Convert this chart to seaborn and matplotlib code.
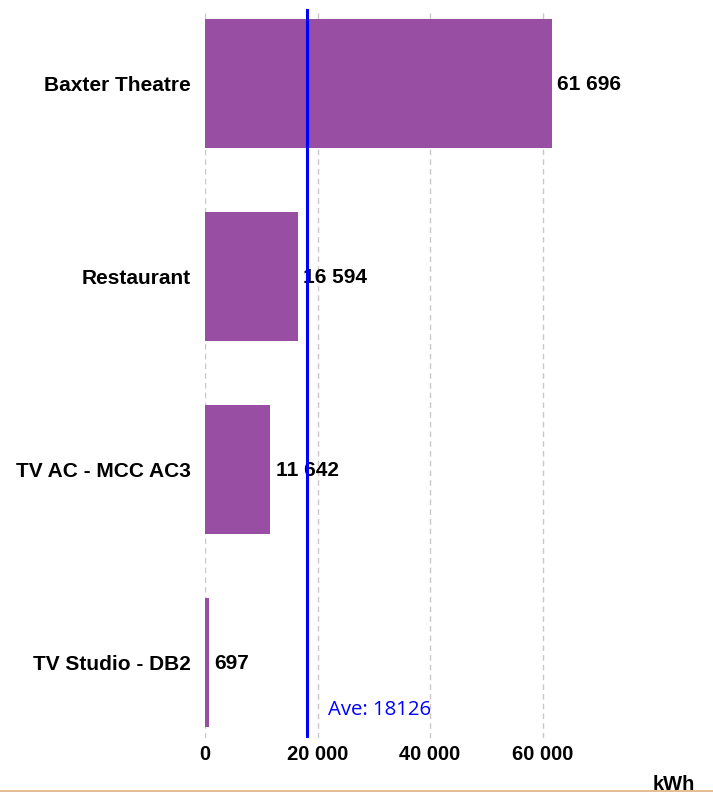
import matplotlib
matplotlib.use("Agg")
import matplotlib.pyplot as plt
import matplotlib.ticker as mticker
import pandas as pd
import seaborn as sns

# ── Data ──────────────────────────────────────────────────────────────────────

categories = ["Baxter Theatre", "Restaurant", "TV AC - MCC AC3", "TV Studio - DB2"]
consumption = [61696, 16594, 11642, 697]
average = 18126
x_ticks = [0, 20000, 40000, 60000]

BAR_COLOR = "#984EA3"
AVE_COLOR = "#0000FF"
FONT = ["Liberation Sans", "DejaVu Sans"]

sns.set_theme(style="white")
plt.rcParams["font.family"] = FONT
plt.rcParams["text.color"] = "black"
plt.rcParams["xtick.color"] = "black"
plt.rcParams["ytick.color"] = "black"

df = pd.DataFrame({"meter": categories, "kwh": consumption})

fig = plt.figure(figsize=(7.13, 7.93), dpi=100)
ax = fig.add_axes([205 / 713, 1 - 738 / 793, 508 / 713, 729 / 793])

sns.barplot(data=df, x="kwh", y="meter", orient="h", color=BAR_COLOR,
            saturation=1, width=0.67, linewidth=0, ax=ax)

ax.set_xlim(0, 508 / 112.5 * 20000)
ax.set_ylim(3.39, -0.386)

ax.set_xticks(x_ticks)
ax.xaxis.set_major_formatter(mticker.FuncFormatter(lambda v, _: f"{int(v):,}".replace(",", " ")))
ax.grid(axis="x", color="#c8c8c8", linestyle=(0, (4, 3)), linewidth=1)
ax.set_axisbelow(True)
for s in ax.spines.values():
    s.set_visible(False)

ax.tick_params(axis="x", length=4, color="#ff9933", width=1, pad=1, labelsize=14.5,
               labelcolor="black")
ax.tick_params(axis="y", length=0, pad=10.5, labelsize=15, labelcolor="black")
for lbl in ax.get_xticklabels() + ax.get_yticklabels():
    lbl.set_fontweight("bold")
    lbl.set_family(FONT)
ax.set_xlabel("")
ax.set_ylabel("")

# value labels
for i, v in enumerate(consumption):
    ax.text(v + 900, i + 0.005, f"{v:,}".replace(",", " "), va="center", ha="left",
            fontsize=15, fontweight="bold", color="black", family=FONT)

# average line
ax.axvline(average, color=AVE_COLOR, linewidth=2.2, zorder=5)
ax.text(average + 3700, 3.245, f"Ave: {average}", color=AVE_COLOR, fontsize=14.7,
        va="center", ha="left", family=["Open Sans", "DejaVu Sans"])

fig.text(695 / 713, 1 - 784 / 793, "kWh", ha="right", va="center",
         fontsize=14.5, fontweight="bold", family=FONT)

fig.add_artist(plt.Line2D([0, 1], [1 - 791 / 793] * 2, color="#E0B080",
                          linewidth=1.2, transform=fig.transFigure))

fig.savefig("out.png", dpi=100)
